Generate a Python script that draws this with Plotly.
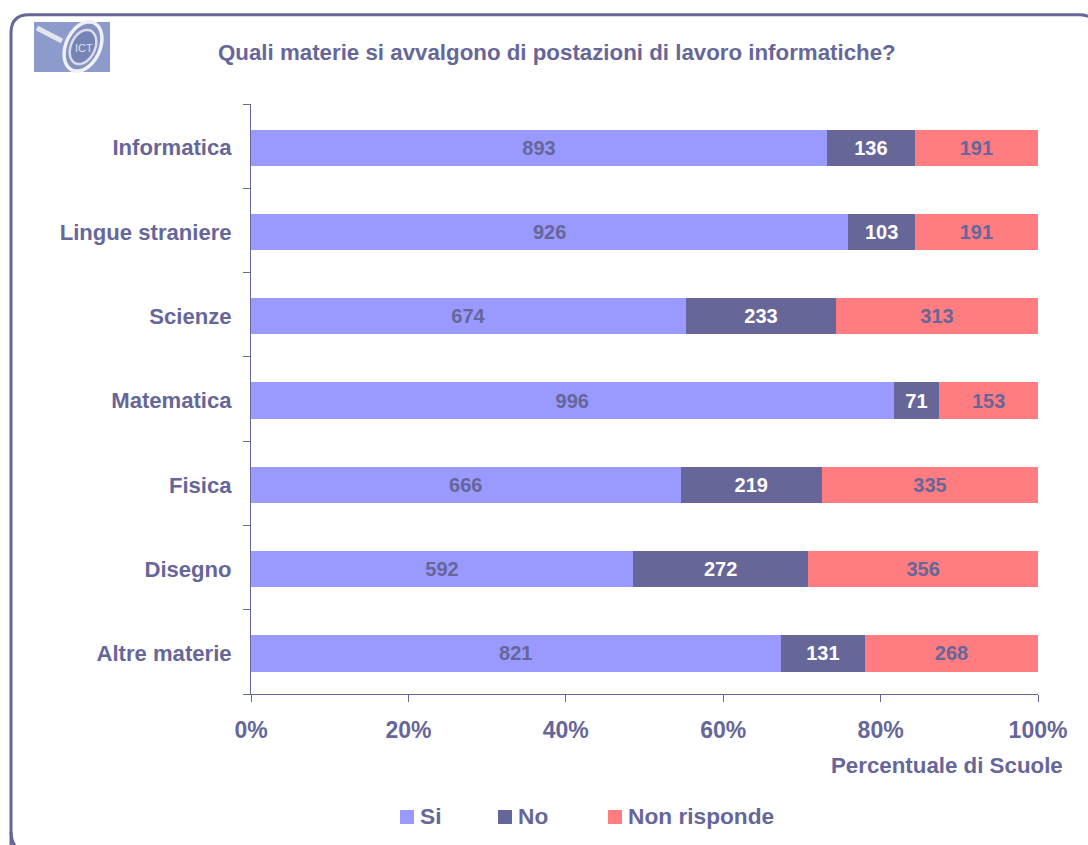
import math
import plotly.graph_objects as go

categories = ["Informatica", "Lingue straniere", "Scienze", "Matematica", "Fisica", "Disegno", "Altre materie"]
si = [893, 926, 674, 996, 666, 592, 821]
no = [136, 103, 233, 71, 219, 272, 131]
non_risponde = [191, 191, 313, 153, 335, 356, 268]
series_names = ["Si", "No", "Non risponde"]
series_colors = ["#9999FF", "#666699", "#FF7C80"]
x_ticks = [0, 20, 40, 60, 80, 100]
x_labels = ["0%", "20%", "40%", "60%", "80%", "100%"]
y_start = -0.482
boundaries = [y_start + k for k in range(8)]

INK = "#666699"
FONT = "Liberation Sans"
W, H = 1088, 845
L, R, T, B = 251, 1038, 104, 694


def px(x):
    return (x - L) / (R - L)


def py(y):
    return (B - y) / (B - T)


def tilted_ellipse(cx, cy, a, b, deg, n=48):
    t = math.radians(deg)
    pts = []
    for i in range(n):
        u = 2 * math.pi * i / n
        ex, ey = a * math.cos(u), b * math.sin(u)
        pts.append((cx + ex * math.cos(t) - ey * math.sin(t), cy + ex * math.sin(t) + ey * math.cos(t)))
    return "M " + " L ".join(f"{px(x)},{py(y)}" for x, y in pts) + " Z"


fig = go.Figure()
text_colors = [INK, "#FFFFFF", INK]
for name, vals, col, tcol in zip(series_names, [si, no, non_risponde], series_colors, text_colors):
    fig.add_bar(
        y=categories, x=vals, name=name, orientation="h", showlegend=False,
        marker=dict(color=col, line=dict(width=0)),
        text=vals, textposition="inside", insidetextanchor="middle",
        textangle=0, textfont=dict(family=FONT, size=20, color=tcol, weight="bold"),
        hoverinfo="x+y+name",
    )

frame = (
    f"M {px(11)},{py(860)} L {px(11)},{py(33)} "
    f"Q {px(11)},{py(14.8)} {px(29)},{py(14.8)} "
    f"L {px(1080)},{py(14.8)} Q {px(1086)},{py(14.8)} {px(1092)},{py(18)}"
)
frame_bottom = f"M {px(11)},{py(832)} Q {px(11)},{py(842)} {px(18)},{py(850)}"
paper = dict(xref="paper", yref="paper")
shapes = [
    dict(type="path", path=frame, line=dict(color=INK, width=3), layer="below", **paper),
    dict(type="path", path=frame_bottom, line=dict(color=INK, width=3), layer="below", **paper),
    dict(type="rect", x0=px(34), x1=px(110), y0=py(72), y1=py(22),
         fillcolor="#8C9BCB", line=dict(width=0), **paper),
    dict(type="line", x0=px(37), y0=py(28), x1=px(62), y1=py(41),
         line=dict(color="#E4E6EE", width=5), **paper),
    dict(type="path", path=tilted_ellipse(83, 46.5, 26, 17, -65),
         line=dict(color="#EEF0F6", width=3.5), fillcolor="#8591BF", **paper),
    dict(type="path", path=tilted_ellipse(83, 47, 18, 12, -65),
         line=dict(color="#D9DCEA", width=2.5), fillcolor="#7683B5", **paper),
]

annotations = [
    dict(text="<b>Quali materie si avvalgono di postazioni di lavoro informatiche?</b>",
         x=px(556.5), y=py(53), xanchor="center", yanchor="middle",
         showarrow=False, font=dict(family=FONT, size=22.3, color=INK), **paper),
    dict(text="<b>Percentuale di Scuole</b>",
         x=px(1065), y=py(765), xanchor="right", yanchor="middle",
         showarrow=False, font=dict(family=FONT, size=22.3, color=INK), **paper),
    dict(text="ICT", x=px(84), y=py(48), xanchor="center", yanchor="middle",
         showarrow=False, font=dict(family=FONT, size=11, color="#DDE0EE"), **paper),
]

# legend row, drawn with swatches next to the series names
swatch_x = [400, 498, 608]
for name, col, sx in zip(series_names, series_colors, swatch_x):
    shapes.append(dict(type="rect", x0=px(sx), x1=px(sx + 14), y0=py(824), y1=py(810),
                       fillcolor=col, line=dict(width=0), **paper))
    annotations.append(dict(text=f"<b>{name}</b>", x=px(sx + 18), y=py(816), xanchor="left", yanchor="middle",
                            showarrow=False, font=dict(family=FONT, size=22.7, color=INK), **paper))

fig.update_layout(
    width=W, height=H, barmode="stack", barnorm="percent", bargap=0.57,
    paper_bgcolor="white", plot_bgcolor="white",
    margin=dict(l=L, r=W - R, t=T, b=H - B, autoexpand=False),
    font=dict(family=FONT, color=INK),
    shapes=shapes, annotations=annotations,
    showlegend=False,
    xaxis=dict(
        range=[0, 100], tickvals=x_ticks, ticktext=x_labels, ticks="outside", ticklen=7,
        tickcolor=INK, tickwidth=1, showline=True, linecolor=INK, linewidth=1, showgrid=False,
        zeroline=False, tickfont=dict(family=FONT, size=23, color=INK, weight="bold"),
        ticklabelstandoff=8,
    ),
    yaxis=dict(
        type="category", categoryorder="array", categoryarray=categories[::-1],
        range=[y_start, y_start + 7], ticks="", ticklen=0,
        minor=dict(ticks="outside", ticklen=7, tickcolor=INK, tickwidth=1,
                   tickvals=boundaries, showgrid=False),
        showline=True, linecolor=INK, linewidth=1, showgrid=False, zeroline=False,
        tickfont=dict(family=FONT, size=22.1, color=INK, weight="bold"),
        ticklabelstandoff=14,
    ),
)

fig.write_html("out.html", config={"displayModeBar": False}, post_script="document.body.style.margin='0';")
